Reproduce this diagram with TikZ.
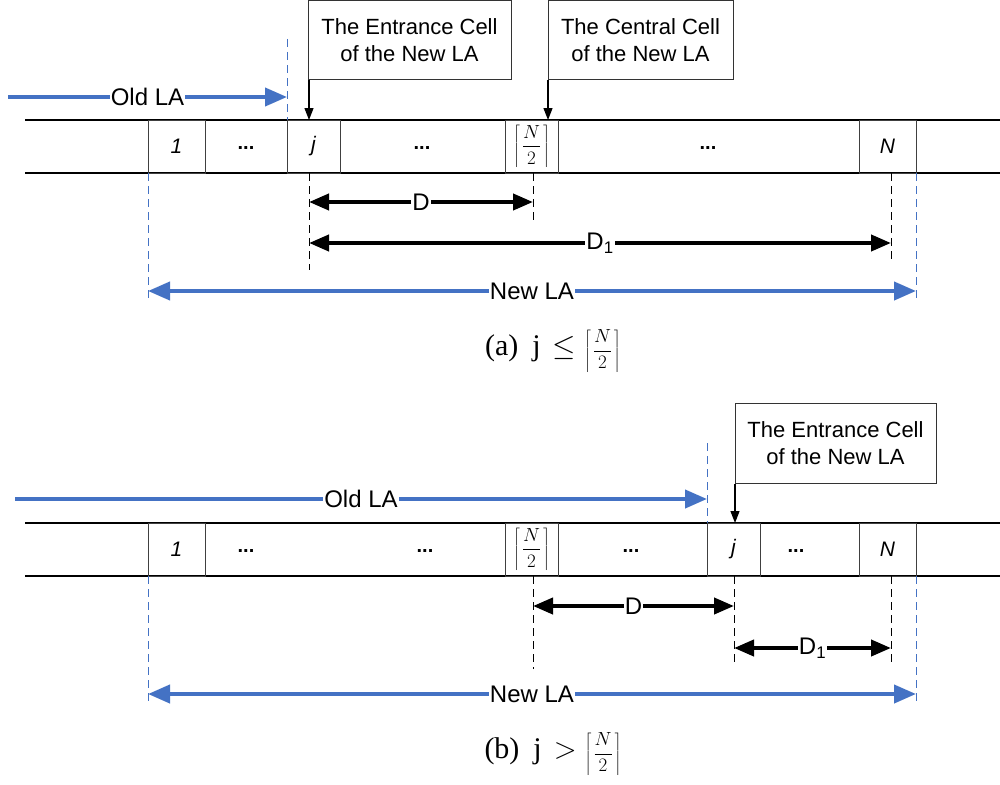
\RequirePackage{fix-cm}
\documentclass[tikz,border=0pt]{standalone}
\usepackage{fontspec}
\setmainfont{Liberation Sans}
\newfontfamily\serifcap{Liberation Serif}
\usetikzlibrary{arrows.meta}
\definecolor{lablue}{HTML}{4472C4}
\newcommand{\myceil}{{\fontsize{19}{22}\selectfont$\displaystyle\left\lceil\mkern2mu\frac{N}{2}\mkern2mu\right\rceil$}}
\begin{document}
\begin{tikzpicture}[x=1pt,y=-1pt,
 stripline/.style={line width=1.3pt,black},
 cellbox/.style={draw=black!75,line width=1pt,minimum width=#1,minimum height=53pt,inner sep=0pt,font=\fontsize{21}{24}\selectfont\itshape},
 ceilbox/.style={draw=black!75,line width=1pt,minimum width=53pt,minimum height=53pt,inner sep=0pt},
 dotlab/.style={font=\fontsize{20}{24}\selectfont\bfseries,inner sep=0pt},
 callout/.style={draw=black!80,line width=1pt,align=center,font=\fontsize{22}{27}\selectfont,inner sep=0pt},
 calarrow/.style={line width=1.2pt,-{Triangle[length=12pt,width=9pt]}},
 bluearrow/.style={lablue,line width=4pt,-{Triangle[length=22pt,width=18pt]}},
 blueboth/.style={lablue,line width=4pt,{Triangle[length=22pt,width=18pt]}-{Triangle[length=22pt,width=18pt]}},
 darrow/.style={black,line width=4pt,{Triangle[length=20pt,width=16pt]}-{Triangle[length=20pt,width=16pt]}},
 bluedash/.style={lablue,line width=1pt,dash pattern=on 8pt off 5pt},
 blackdash/.style={black,line width=1pt,dash pattern=on 8pt off 5pt},
 lab/.style={fill=white,inner sep=1pt,font=\fontsize{24}{28}\selectfont,text=black},
 capt/.style={font=\serifcap\fontsize{30}{34}\selectfont,inner sep=0pt}
]
\useasboundingbox[fill=white] (0,0) rectangle (1000,784);

% ================= panel (a) =================
\draw[stripline] (25,120) -- (1000,120);
\draw[stripline] (25,173) -- (1000,173);
\node[cellbox=57pt] (a1) at (176.5,146.5) {1};
\node[dotlab] (ad1) at (246,148) {...};
\node[cellbox=53pt] (aj) at (313.5,146.5) {j};
\node[dotlab] (ad2) at (422,148) {...};
\node[ceilbox] (ac) at (531.5,146.5) {\myceil};
\node[dotlab] (ad3) at (708,148) {...};
\node[cellbox=57pt] (aN) at (887.5,146.5) {N};

\node[callout,minimum width=203pt,minimum height=79pt] (ea) at (409.5,40) {The Entrance Cell\\of the New LA};
\node[callout,minimum width=185pt,minimum height=79pt] (ca) at (640.5,40) {The Central Cell\\of the New LA};
\coordinate (taj) at (309,120);
\coordinate (tac) at (548,120);
\draw[calarrow] (ea.south west -| taj) -- (taj);
\draw[calarrow] (ca.south west -| tac) -- (tac);

\coordinate (oa0) at (8,97);
\coordinate (oa1) at (287,97);
\draw[bluedash] (287,39) -- (287,120);
\draw[bluearrow] (oa0) -- node[lab]{Old LA} (oa1);

\draw[bluedash] (148,173) -- (148,300);
\draw[bluedash] (916,173) -- (916,300);
\draw[blackdash] (309,173) -- (309,270);
\draw[blackdash] (533,173) -- (533,223);
\draw[blackdash] (891,173) -- (891,260);

\coordinate (da0) at (309,202);
\coordinate (da1) at (533,202);
\draw[darrow] (da0) -- node[lab]{D} (da1);
\coordinate (d1a0) at (309,243);
\coordinate (d1a1) at (891,243);
\draw[darrow] (d1a0) -- node[lab]{D\textsubscript{1}} (d1a1);
\coordinate (na0) at (148,291);
\coordinate (na1) at (916,291);
\draw[blueboth] (na0) -- node[lab]{New LA} (na1);

\node[capt] (capa) at (553,351) {(a)\hspace{14pt}j\hspace{12pt}$\leq$\hspace{8pt}\myceil};

% ================= panel (b) =================
\draw[stripline] (25,523) -- (1000,523);
\draw[stripline] (25,576) -- (1000,576);
\node[cellbox=57pt] (b1) at (176.5,549.5) {1};
\node[dotlab] (bd1) at (246,551) {...};
\node[dotlab] (bd2) at (425,551) {...};
\node[ceilbox] (bc) at (531.5,549.5) {\myceil};
\node[dotlab] (bd3) at (631,551) {...};
\node[cellbox=53pt] (bj) at (733.5,549.5) {j};
\node[dotlab] (bd4) at (796,551) {...};
\node[cellbox=57pt] (bN) at (887.5,549.5) {N};

\node[callout,minimum width=201pt,minimum height=80pt] (eb) at (835.5,443) {The Entrance Cell\\of the New LA};
\coordinate (tbj) at (735,523);
\draw[calarrow] (eb.south west -| tbj) -- (tbj);

\coordinate (ob0) at (15,499);
\coordinate (ob1) at (707,499);
\draw[bluedash] (707,443) -- (707,523);
\draw[bluearrow] (ob0) -- node[lab]{Old LA} (ob1);

\draw[bluedash] (148,576) -- (148,705);
\draw[bluedash] (916,576) -- (916,705);
\draw[blackdash] (533,576) -- (533,669);
\draw[blackdash] (734,576) -- (734,663);
\draw[blackdash] (891,576) -- (891,663);

\coordinate (db0) at (533,606);
\coordinate (db1) at (734,606);
\draw[darrow] (db0) -- node[lab]{D} (db1);
\coordinate (d1b0) at (734,648);
\coordinate (d1b1) at (891,648);
\draw[darrow] (d1b0) -- node[lab]{D\textsubscript{1}} (d1b1);
\coordinate (nb0) at (148,694);
\coordinate (nb1) at (916,694);
\draw[blueboth] (nb0) -- node[lab]{New LA} (nb1);

\node[capt] (capb) at (553,754) {(b)\hspace{14pt}j\hspace{12pt}$>$\hspace{8pt}\myceil};
\end{tikzpicture}
\end{document}
